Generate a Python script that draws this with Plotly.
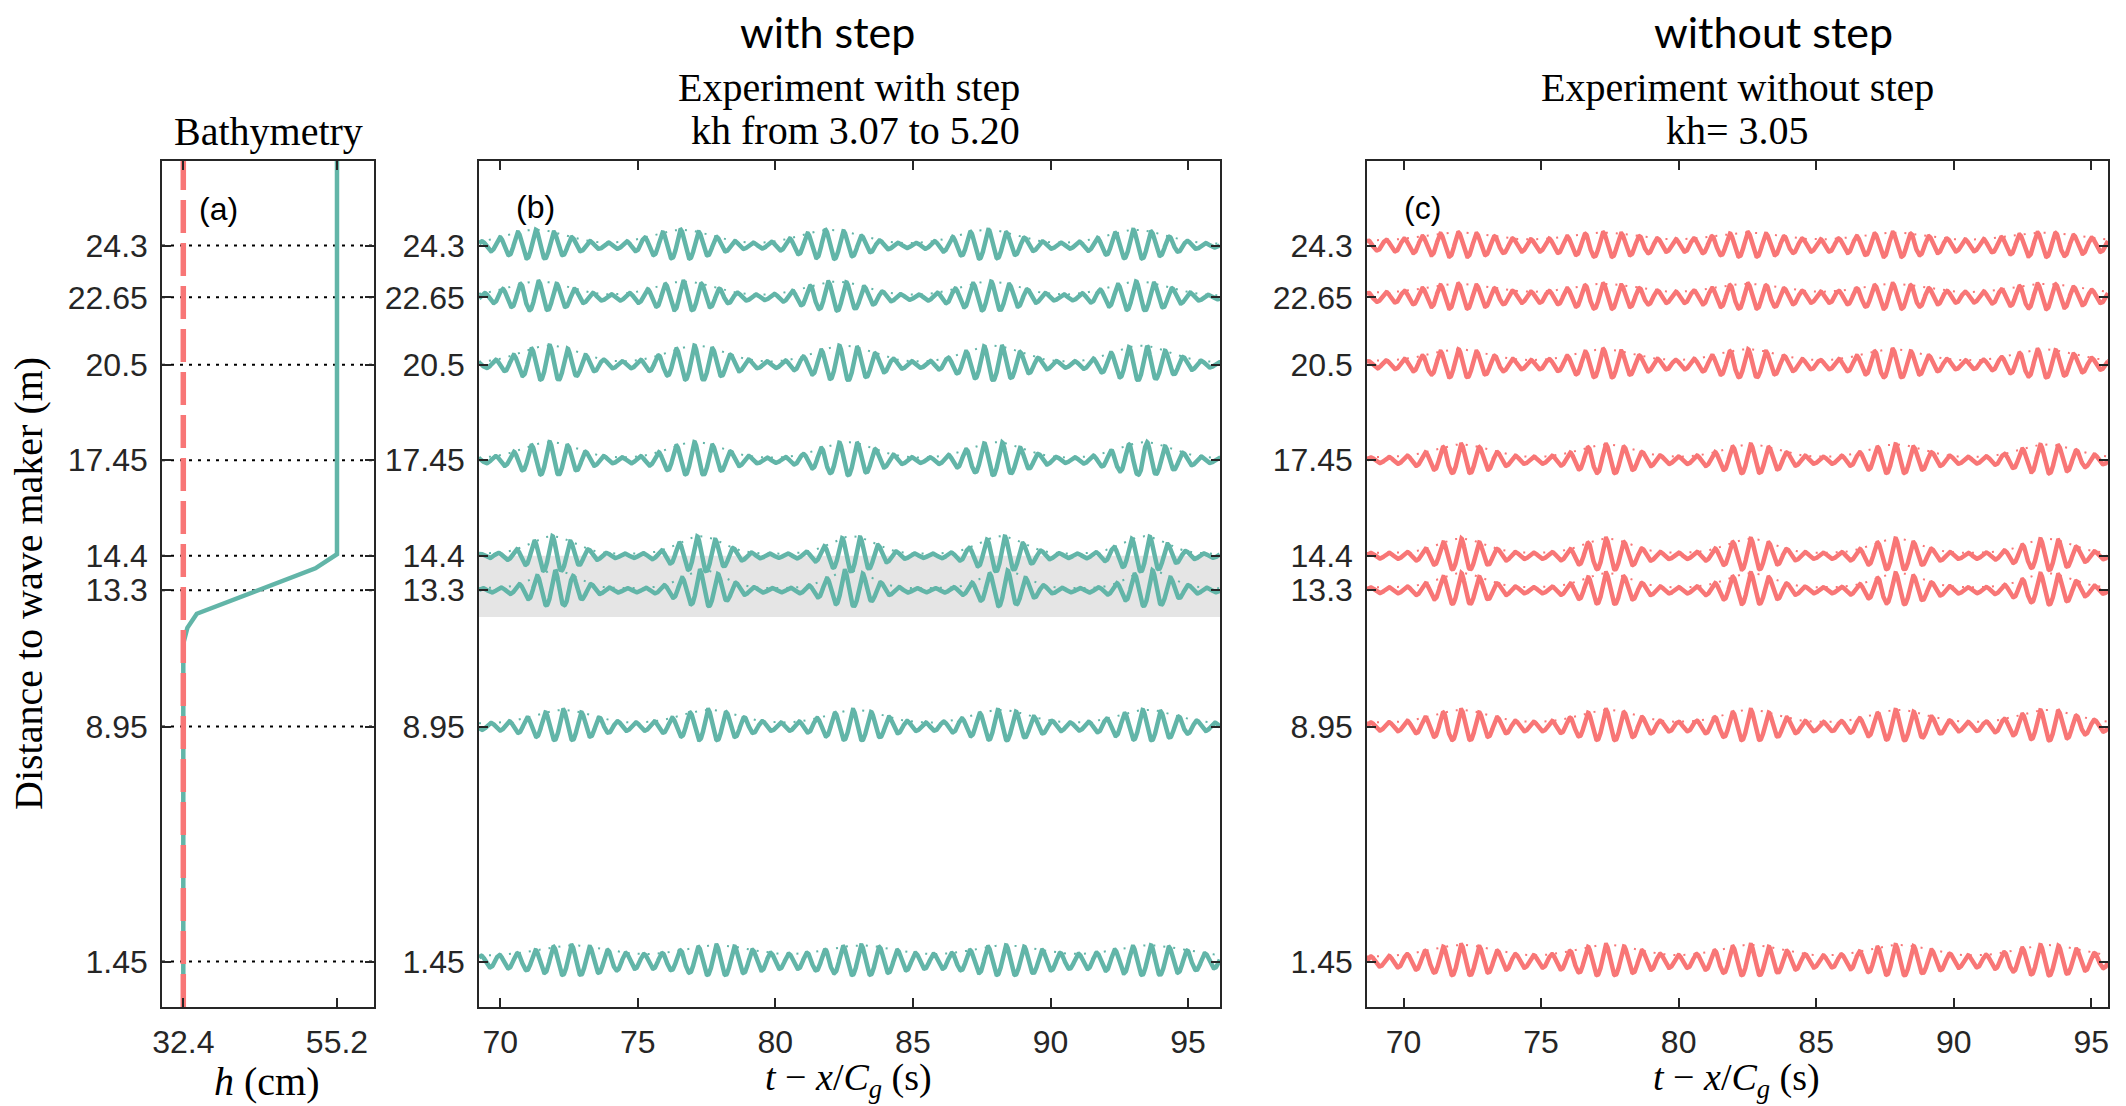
import numpy as np
import plotly.graph_objects as go

# ---------------------------------------------------------------- data
gauge_x_m = [24.3, 22.65, 20.5, 17.45, 14.4, 13.3, 8.95, 1.45]
gauge_labels = ["24.3", "22.65", "20.5", "17.45", "14.4", "13.3", "8.95", "1.45"]

# bathymetry profile: water depth h (cm) against distance to wave maker (m)
profile_depth_cm = [55.2, 55.2, 52.0, 34.4, 33.0, 32.4, 32.4]
profile_dist_m = [27.0, 14.45, 14.0, 12.55, 12.1, 11.6, 0.0]
flat_depth_cm = 32.4
depth_ticks_cm = [32.4, 55.2]
step_zone_m = [12.45, 14.4]

time_ticks_s = [70, 75, 80, 85, 90, 95]

# carrier wave of the bichromatic wave train
carrier_freq_hz = 1.52
wavenumber_per_cm = 0.0947

# experiment with step: group crest times, peak / background amplitude, group width
step_group_peaks_s = [
    [71.3, 76.6, 82.0, 87.7, 93.1],
    [71.4, 76.7, 82.2, 87.8, 93.2],
    [71.8, 77.1, 82.5, 87.9, 93.3],
    [71.8, 77.1, 82.6, 88.0, 93.4],
    [71.9, 77.3, 82.8, 88.2, 93.4],
    [72.0, 77.4, 82.7, 88.3, 93.6],
    [72.3, 77.6, 82.9, 88.2, 93.5],
    [72.6, 77.9, 83.1, 88.4, 93.6],
]
step_peak_amp_cm = [1.85, 1.85, 2.2, 2.1, 2.25, 2.3, 1.95, 1.9]
step_background_amp_cm = [0.2, 0.2, 0.25, 0.25, 0.25, 0.25, 0.4, 0.7]
step_group_width_s = [1.55, 1.55, 1.5, 1.4, 1.15, 1.1, 1.45, 1.7]

# experiment without step
flat_group_peaks_s = [
    [72.0, 77.3, 82.5, 87.8, 93.3],
    [72.0, 77.3, 82.5, 87.8, 93.3],
    [72.0, 77.3, 82.5, 87.8, 93.3],
    [72.1, 77.4, 82.6, 87.9, 93.4],
    [72.1, 77.4, 82.6, 87.9, 93.4],
    [72.1, 77.4, 82.6, 88.0, 93.4],
    [72.1, 77.4, 82.6, 88.0, 93.4],
    [72.1, 77.4, 82.6, 88.0, 93.4],
]
flat_peak_amp_cm = [1.55, 1.6, 1.8, 1.85, 2.0, 2.0, 1.95, 1.95]
flat_background_amp_cm = [0.6, 0.55, 0.45, 0.35, 0.35, 0.35, 0.5, 0.6]
flat_group_width_s = [1.7, 1.6, 1.5, 1.4, 1.2, 1.2, 1.4, 1.6]

# ---------------------------------------------------------------- style
W, H = 2126, 1106
TEAL = "#62b5a8"
RED = "#f87676"
AX = "#262626"
SANS = "Liberation Sans, Arial, sans-serif"
SERIF = "Liberation Serif, Times New Roman, serif"
TITLE = "Lato, Open Sans, sans-serif"
cm_to_axis = 0.25          # vertical offset units (m) per cm of surface elevation

x_ranges = {"a": [29.24, 60.69], "b": [69.23, 96.16], "c": [68.67, 95.61]}


def wave_record(t, peaks, amp_peak, amp_bg, width):
    env = np.full_like(t, amp_bg)
    for tp in peaks:
        env += (amp_peak - amp_bg) * np.exp(-((t - tp) / width) ** 2)
    theta = 2 * np.pi * carrier_freq_hz * (t - peaks[0])
    eta = env * np.cos(theta) + 0.5 * wavenumber_per_cm * env ** 2 * np.cos(2 * theta)
    crest = env + 0.5 * wavenumber_per_cm * env ** 2
    return eta, crest


fig = go.Figure()

# dotted gauge lines in the bathymetry panel
for g in gauge_x_m:
    fig.add_shape(type="line", xref="x domain", yref="y", x0=0, x1=1, y0=g, y1=g,
                  line=dict(color="black", width=2, dash="3px,6px"), layer="below")

# step region in panel (b)
fig.add_shape(type="rect", xref="x2 domain", yref="y2", x0=0, x1=1,
              y0=step_zone_m[0], y1=step_zone_m[1],
              fillcolor="#e5e5e5", line=dict(width=0), layer="below")

# bathymetry
fig.add_trace(go.Scatter(x=profile_depth_cm, y=profile_dist_m, mode="lines",
                         line=dict(color=TEAL, width=4.5), xaxis="x", yaxis="y",
                         showlegend=False, hoverinfo="skip"))
fig.add_trace(go.Scatter(x=[flat_depth_cm, flat_depth_cm], y=[0, 27], mode="lines",
                         line=dict(color=RED, width=5.5, dash="33px,10px"), xaxis="x", yaxis="y",
                         showlegend=False, hoverinfo="skip"))

# wave records
panels = [
    ("x2", "y2", "b", TEAL, step_group_peaks_s, step_peak_amp_cm, step_background_amp_cm, step_group_width_s),
    ("x3", "y3", "c", RED, flat_group_peaks_s, flat_peak_amp_cm, flat_background_amp_cm, flat_group_width_s),
]
for xa, ya, key, col, peaks, amp, bg, wid in panels:
    t = np.arange(x_ranges[key][0], x_ranges[key][1] + 0.01, 0.015)
    for i, g in enumerate(gauge_x_m):
        eta, crest = wave_record(t, peaks[i], amp[i], bg[i], wid[i])
        fig.add_trace(go.Scatter(x=t, y=g + cm_to_axis * crest, mode="lines",
                                 line=dict(color=col, width=2, dash="2px,8px"),
                                 xaxis=xa, yaxis=ya, showlegend=False, hoverinfo="skip"))
        fig.add_trace(go.Scatter(x=t, y=g + cm_to_axis * eta, mode="lines",
                                 line=dict(color=col, width=4.5),
                                 xaxis=xa, yaxis=ya, showlegend=False, hoverinfo="skip"))

# ---------------------------------------------------------------- axes
y_dom = [1 - 1007 / H, 1 - 161 / H]
common = dict(showline=True, mirror="ticks", linecolor=AX, linewidth=1.5,
              ticks="inside", ticklen=9, tickwidth=1.5, tickcolor=AX,
              showgrid=False, zeroline=False, automargin=False,
              tickfont=dict(family=SANS, size=32, color=AX))
yax = dict(common, range=[0, 27], tickmode="array", tickvals=gauge_x_m,
           ticktext=gauge_labels, ticklabelstandoff=6, domain=y_dom)

fig.update_layout(
    width=W, height=H, autosize=False,
    margin=dict(l=0, r=0, t=0, b=0, pad=0, autoexpand=False),
    paper_bgcolor="white", plot_bgcolor="white",
    xaxis=dict(common, domain=[162 / W, 374 / W], range=x_ranges["a"], tickmode="array",
               tickvals=depth_ticks_cm, ticktext=[f"{v:.1f}" for v in depth_ticks_cm],
               ticklabelstandoff=6, anchor="y"),
    yaxis=dict(yax, anchor="x"),
    xaxis2=dict(common, domain=[479 / W, 1220 / W], range=x_ranges["b"], tickmode="array",
                tickvals=time_ticks_s, ticklabelstandoff=6, anchor="y2"),
    yaxis2=dict(yax, anchor="x2"),
    xaxis3=dict(common, domain=[1367 / W, 2108 / W], range=x_ranges["c"], tickmode="array",
                tickvals=time_ticks_s, ticklabelstandoff=6, anchor="y3"),
    yaxis3=dict(yax, anchor="x3"),
)


def note(text, x, y, family, size, angle=0, yanchor="middle"):
    fig.add_annotation(text=text, x=x / W, y=1 - y / H, xref="paper", yref="paper",
                       xanchor="center", yanchor=yanchor, showarrow=False, textangle=angle,
                       font=dict(family=family, size=size, color="black"))


note("with step", 827, 32, TITLE, 43)
note("without step", 1773, 32, TITLE, 43)
note("Experiment with step", 849, 87, SERIF, 40)
note("kh from 3.07 to 5.20", 855, 130, SERIF, 40)
note("Experiment without step", 1737, 87, SERIF, 40)
note("kh= 3.05", 1737, 130, SERIF, 40)
note("Bathymetry", 268, 131, SERIF, 40)
note("(a)", 218, 209, SANS, 32)
note("(b)", 535, 207, SANS, 32)
note("(c)", 1422, 208, SANS, 32)
note("Distance to wave maker (m)", 28, 584, SERIF, 40, angle=-90)
note("<i>h</i> (cm)", 267, H, SERIF, 40, yanchor="bottom")
note("<i>t</i> − <i>x</i>/<i>C</i><sub><i>g</i></sub> (s)", 848, H, SERIF, 38, yanchor="bottom")
note("<i>t</i> − <i>x</i>/<i>C</i><sub><i>g</i></sub> (s)", 1736, H, SERIF, 38, yanchor="bottom")

fig.write_html("out.html")
